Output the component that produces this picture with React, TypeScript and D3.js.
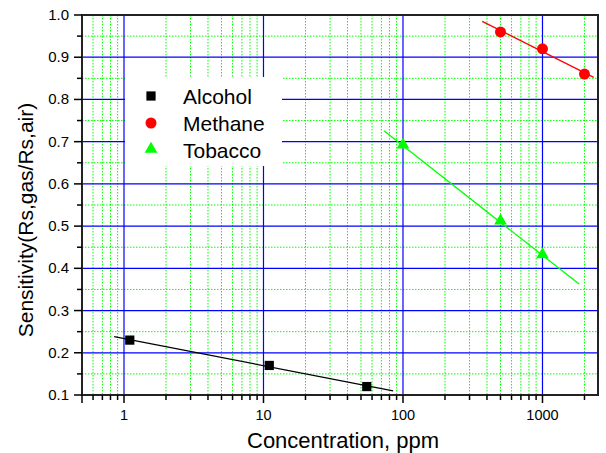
import React, { useEffect, useRef } from "react";
import * as d3 from "d3";

// concentration (ppm) and sensitivity
const alcoholX = [1.1, 11, 55];
const alcoholY = [0.23, 0.17, 0.12];
const methaneX = [500, 1000, 2000];
const methaneY = [0.96, 0.92, 0.86];
const tobaccoX = [100, 500, 1000];
const tobaccoY = [0.69, 0.51, 0.43];

// x range covered by each fitted line
const alcoholFit = [0.85, 85];
const methaneFit = [370, 2330];
const tobaccoFit = [73, 1830];

const xTicks = [1, 10, 100, 1000];
const yTicks = [0.1, 0.2, 0.3, 0.4, 0.5, 0.6, 0.7, 0.8, 0.9, 1.0];
const legendNames = ["Alcohol", "Methane", "Tobacco"];

const font = "'Liberation Sans', Arial, sans-serif";

// least squares of y on log10(x)
function fit(xs: number[], ys: number[]) {
  const lx = xs.map(Math.log10);
  const mx = d3.mean(lx)!;
  const my = d3.mean(ys)!;
  const b =
    d3.sum(lx, (v, i) => (v - mx) * (ys[i] - my)) /
    d3.sum(lx, (v) => (v - mx) * (v - mx));
  return (x: number) => my + b * (Math.log10(x) - mx);
}

const App = () => {
  const ref = useRef<SVGSVGElement>(null);

  useEffect(() => {
    const svg = d3.select(ref.current);
    svg.selectAll("*").remove();

    const left = 82, right = 598, top = 15, bottom = 395;
    const x = d3.scaleLog().domain([0.5, 2500]).range([left, right]);
    const y = d3.scaleLinear().domain([0.1, 1.0]).range([bottom, top]);

    const g = svg.append("g");

    // minor grid values
    const minorX: number[] = [];
    [0.1, 1, 10, 100, 1000].forEach((d) => {
      for (let k = 2; k <= 9; k++) {
        const v = d * k;
        if (v > 0.5 && v < 2500) minorX.push(v);
      }
    });
    const minorY = d3.range(0.15, 1.0, 0.1);

    // green dotted minor grid
    g.selectAll(".mx")
      .data(minorX)
      .join("line")
      .attr("x1", (d) => x(d)).attr("x2", (d) => x(d))
      .attr("y1", top).attr("y2", bottom)
      .attr("stroke", "#00ff00").attr("stroke-width", 1)
      .attr("stroke-dasharray", "1.5,1.5");
    g.selectAll(".my")
      .data(minorY)
      .join("line")
      .attr("x1", left).attr("x2", right)
      .attr("y1", (d) => y(d)).attr("y2", (d) => y(d))
      .attr("stroke", "#00ff00").attr("stroke-width", 1)
      .attr("stroke-dasharray", "1.5,1.5");

    // blue major grid
    g.selectAll(".Mx")
      .data(xTicks)
      .join("line")
      .attr("x1", (d) => x(d)).attr("x2", (d) => x(d))
      .attr("y1", top).attr("y2", bottom)
      .attr("stroke", "#0000ff").attr("stroke-width", 1.2);
    g.selectAll(".My")
      .data(yTicks.slice(1, -1))
      .join("line")
      .attr("x1", left).attr("x2", right)
      .attr("y1", (d) => y(d)).attr("y2", (d) => y(d))
      .attr("stroke", "#0000ff").attr("stroke-width", 1.2);

    // legend box hides the grid
    g.append("rect")
      .attr("x", 125).attr("y", 77)
      .attr("width", 157).attr("height", 89)
      .attr("fill", "white");

    // fitted lines
    const series = [
      { xs: alcoholX, ys: alcoholY, range: alcoholFit, color: "#000000" },
      { xs: methaneX, ys: methaneY, range: methaneFit, color: "#ff0000" },
      { xs: tobaccoX, ys: tobaccoY, range: tobaccoFit, color: "#00ff00" },
    ];
    series.forEach((s) => {
      const f = fit(s.xs, s.ys);
      g.append("line")
        .attr("x1", x(s.range[0])).attr("y1", y(f(s.range[0])))
        .attr("x2", x(s.range[1])).attr("y2", y(f(s.range[1])))
        .attr("stroke", s.color).attr("stroke-width", 1.3);
    });

    const square = d3.symbol().type(d3.symbolSquare).size(85);
    const circle = d3.symbol().type(d3.symbolCircle).size(95);
    const triangle = d3.symbol().type(d3.symbolTriangle).size(70);

    g.selectAll(".alc")
      .data(alcoholX)
      .join("path")
      .attr("d", square)
      .attr("transform", (d, i) => `translate(${x(d)},${y(alcoholY[i])})`)
      .attr("fill", "#000");
    g.selectAll(".met")
      .data(methaneX)
      .join("path")
      .attr("d", circle)
      .attr("transform", (d, i) => `translate(${x(d)},${y(methaneY[i])})`)
      .attr("fill", "#ff0000");
    g.selectAll(".tob")
      .data(tobaccoX)
      .join("path")
      .attr("d", triangle)
      .attr("transform", (d, i) => `translate(${x(d)},${y(tobaccoY[i]) - 1})`)
      .attr("fill", "#00ff00");

    // frame
    g.append("rect")
      .attr("x", left).attr("y", top)
      .attr("width", right - left).attr("height", bottom - top)
      .attr("fill", "none").attr("stroke", "#222").attr("stroke-width", 2);

    // bottom axis
    const xAxis = g.append("g").attr("transform", `translate(0,${bottom})`);
    xAxis.selectAll(".tM")
      .data([0.5, ...xTicks])
      .join("line")
      .attr("x1", (d) => x(d)).attr("x2", (d) => x(d))
      .attr("y1", 0).attr("y2", 8)
      .attr("stroke", "#000").attr("stroke-width", 1.5);
    xAxis.selectAll(".tm")
      .data(minorX)
      .join("line")
      .attr("x1", (d) => x(d)).attr("x2", (d) => x(d))
      .attr("y1", 0).attr("y2", 5)
      .attr("stroke", "#000").attr("stroke-width", 1.5);
    xAxis.selectAll("text")
      .data(xTicks)
      .join("text")
      .attr("x", (d) => x(d)).attr("y", 25)
      .attr("text-anchor", "middle")
      .style("font-family", font).style("font-size", "14.5px")
      .text((d) => d3.format("d")(d));

    // left axis
    const yAxis = g.append("g").attr("transform", `translate(${left},0)`);
    yAxis.selectAll(".tM")
      .data(yTicks)
      .join("line")
      .attr("x1", -8).attr("x2", 0)
      .attr("y1", (d) => y(d)).attr("y2", (d) => y(d))
      .attr("stroke", "#000").attr("stroke-width", 1.5);
    yAxis.selectAll(".tm")
      .data(minorY)
      .join("line")
      .attr("x1", -5).attr("x2", 0)
      .attr("y1", (d) => y(d)).attr("y2", (d) => y(d))
      .attr("stroke", "#000").attr("stroke-width", 1.5);
    yAxis.selectAll("text")
      .data(yTicks)
      .join("text")
      .attr("x", -13).attr("y", (d) => y(d) + 5)
      .attr("text-anchor", "end")
      .style("font-family", font).style("font-size", "15px")
      .text((d) => d3.format(".1f")(d));

    // axis titles
    svg.append("text")
      .attr("x", 343).attr("y", 448)
      .attr("text-anchor", "middle")
      .style("font-family", font).style("font-size", "22px")
      .text("Concentration, ppm");
    svg.append("text")
      .attr("transform", `translate(33,220) rotate(-90)`)
      .attr("text-anchor", "middle")
      .style("font-family", font).style("font-size", "21px")
      .text("Sensitivity(Rs,gas/Rs,air)");

    // legend
    const syms = [
      { s: square, c: "#000" },
      { s: circle, c: "#ff0000" },
      { s: triangle, c: "#00ff00" },
    ];
    const legend = svg.append("g");
    legendNames.forEach((name, i) => {
      const ly = 96 + i * 27;
      legend.append("path")
        .attr("d", syms[i].s)
        .attr("transform", `translate(151,${ly - (i === 2 ? 1 : 0)})`)
        .attr("fill", syms[i].c);
      legend.append("text")
        .attr("x", 183).attr("y", ly + 7.5)
        .style("font-family", font).style("font-size", "21px")
        .text(name);
    });
  }, []);

  return <svg ref={ref} width={606} height={453} style={{ display: "block", margin: 0, position: "absolute", left: 0, top: 0 }} />;
};

export default App;
